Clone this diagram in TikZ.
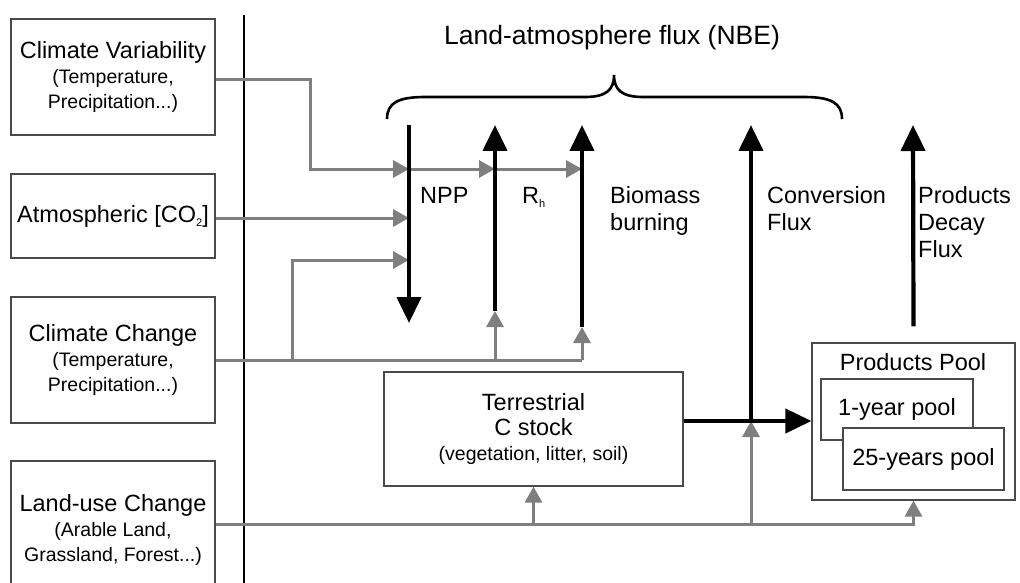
\documentclass[tikz,border=0pt]{standalone}
\usepackage{fontspec}
\setmainfont{Liberation Sans}
\usetikzlibrary{arrows.meta,calc}
\definecolor{lgrey}{HTML}{7F7F7F}
\definecolor{bordergrey}{HTML}{4A4A4A}
\newcommand{\mainsz}{\fontsize{23.5}{27}\selectfont}
\newcommand{\tinysub}[1]{\raisebox{-4pt}{\fontsize{11}{11}\selectfont #1}}
\tikzset{
  box/.style={draw=bordergrey, line width=1.2pt, fill=white, inner sep=0pt, align=center, font=\fontsize{19.5}{25}\selectfont},
  flux/.style={line width=4.2pt, -{Triangle[width=24pt,length=26pt]}},
  ctl/.style={draw=lgrey, line width=3pt, -{Triangle[width=17pt,length=16pt]}},
  ctlline/.style={draw=lgrey, line width=3pt},
  lbl/.style={font=\fontsize{23.5}{27}\selectfont, anchor=base west, inner sep=0pt, align=left},
}
\begin{document}
\begin{tikzpicture}[x=1pt,y=-1pt]
\useasboundingbox (0,0) rectangle (1020,583);
\clip (0,0) rectangle (1020,583);
\fill[white] (0,0) rectangle (1020,583);

% left driver boxes
\node[box, minimum width=204pt, minimum height=116pt] (cv) at (113,77)
  {{\mainsz Climate Variability}\\(Temperature,\\Precipitation...)};
\node[box, minimum width=204pt, minimum height=84pt] (co2) at (113,216)
  {\mainsz Atmospheric [CO\tinysub{2}]};
\node[box, minimum width=204pt, minimum height=126pt] (cc) at (113,360)
  {{\mainsz Climate Change}\\(Temperature,\\Precipitation...)};
\node[box, minimum width=204pt, minimum height=138pt] (lu) at (113,530)
  {{\mainsz Land-use Change}\\(Arable Land,\\Grassland, Forest...)};

% separator
\draw[line width=1.6pt] (244,15) -- (244,590);

% title and brace
\node[font=\fontsize{26.5}{30}\selectfont, inner sep=0pt] (title) at (612,38) {Land-atmosphere flux (NBE)};
\draw[line width=2.6pt] (387,119) .. controls (387,103) and (398,97) .. (425,97)
  -- (585,97) .. controls (606,97) and (614,90) .. (614,75)
  .. controls (614,90) and (622,97) .. (643,97)
  -- (804,97) .. controls (831,97) and (842,103) .. (842,119);

% terrestrial stock
\node[box, minimum width=299pt, minimum height=114pt] (ts) at (533.5,429)
  {{\mainsz Terrestrial}\\{\mainsz C stock}\\(vegetation, litter, soil)};

% products pool
\node[box, minimum width=203pt, minimum height=157pt] (pp) at (913.5,421.5) {};
\node[font=\mainsz, anchor=base, inner sep=0pt] (pptxt) at (913,370) {Products Pool};
\node[box, minimum width=152pt, minimum height=61pt] (p1) at (897,409.5) {\mainsz 1-year pool};
\node[box, minimum width=161pt, minimum height=62pt] (p25) at (923.5,459) {\mainsz 25-years pool};

% flux coordinates
\coordinate (nppT) at (409,125); \coordinate (nppB) at (409,323);
\coordinate (rhT) at (495,125);  \coordinate (rhB) at (495,311);
\coordinate (bbT) at (582,125);  \coordinate (bbB) at (582,327);
\coordinate (cfT) at (751,125);  \coordinate (cfB) at (751,421);
\coordinate (pdT) at (913,125);

% grey control connectors
\draw[ctl] ([yshift=-3pt]cv.east) -| (310,169) -- (nppT |- 0,169);
\draw[ctl] (nppT |- 0,169) -- (rhT |- 0,169);
\draw[ctl] (rhT |- 0,169) -- (bbT |- 0,169);
\draw[ctl] ([yshift=-2pt]co2.east) -- (nppT |- 0,218);
\draw[ctlline] (cc.east) -- (bbT |- cc.east);
\draw[ctl] (292,360) |- (nppT |- 0,260);
\draw[ctl] (rhT |- cc.east) -- (rhB);
\draw[ctl] (bbT |- cc.east) -- (bbB);
\draw[ctl] ([yshift=6pt]lu.east) -| (pp.south);
\draw[ctl] (ts.south |- 0,524) -- (ts.south);
\draw[ctl] (cfB |- 0,524) -- (cfB);

% black flux arrows
\draw[flux] (nppT) -- (nppB);
\draw[flux] (rhB) -- (rhT);
\draw[flux] (bbB) -- (bbT);
\draw[flux] (ts.east |- cfB) -- (pp.west |- cfB);
\draw[flux] (cfB) -- (cfT);
\draw[flux] ([yshift=16pt]pp.north) -- (pdT);

% flux labels (anchor = baseline of last line)
\node[lbl] (npp) at (420,204) {NPP};
\node[lbl] (rh) at (522,204) {R\tinysub{h}};
\node[lbl] (bb) at (610,230) {Biomass\\burning};
\node[lbl] (cf) at (767,230) {Conversion\\Flux};
\node[lbl] (pd) at (918,257) {Products\\Decay\\Flux};
\end{tikzpicture}
\end{document}
